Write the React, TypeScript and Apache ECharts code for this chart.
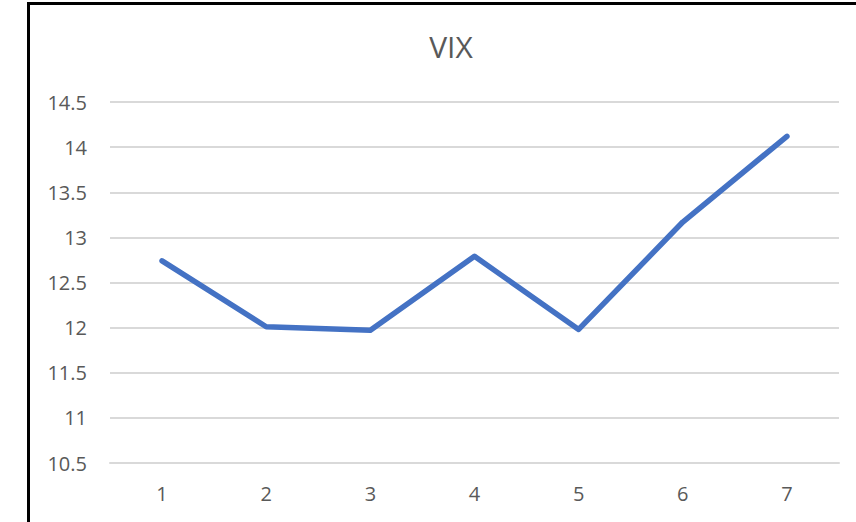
import React, { useEffect, useRef } from "react";
import * as echarts from "echarts";

const categories = ["1", "2", "3", "4", "5", "6", "7"];
const vixValues = [12.74, 12.01, 11.97, 12.79, 11.98, 13.17, 14.12];
const yTicks = { min: 10.5, max: 14.5, interval: 0.5 };

export default function App() {
  const ref = useRef<HTMLDivElement>(null);
  useEffect(() => {
    if (!ref.current) return;
    const chart = echarts.init(ref.current, null, { renderer: "svg" });
    chart.setOption({
      animation: false,
      backgroundColor: "#ffffff",
      title: {
        text: "VIX",
        left: 446,
        top: 26,
        textAlign: "center",
        textStyle: { fontFamily: "Open Sans", fontSize: 30, fontWeight: "normal", color: "#595959" },
      },
      graphic: [
        {
          type: "rect",
          shape: { x: 28.5, y: 3.5, width: 900, height: 600 },
          style: { fill: "none", stroke: "#000000", lineWidth: 3 },
          silent: true,
        },
      ],
      grid: { left: 110, right: 17, top: 102, bottom: 59 },
      xAxis: {
        type: "category",
        data: categories,
        boundaryGap: true,
        axisLine: { show: true, lineStyle: { color: "#d9d9d9", width: 2 } },
        axisTick: { show: false },
        axisLabel: { margin: 20, fontFamily: "Open Sans", fontSize: 20, color: "#595959" },
      },
      yAxis: {
        type: "value",
        min: yTicks.min,
        max: yTicks.max,
        interval: yTicks.interval,
        axisLine: { show: false },
        axisTick: { show: false },
        splitLine: { lineStyle: { color: "#d9d9d9", width: 2 } },
        axisLabel: { margin: 23, fontFamily: "Open Sans", fontSize: 20, color: "#595959" },
      },
      series: [
        {
          type: "line",
          data: vixValues,
          showSymbol: false,
          lineStyle: { color: "#4472C4", width: 5.5, cap: "round", join: "round" },
          itemStyle: { color: "#4472C4" },
        },
      ],
    });
    return () => chart.dispose();
  }, []);
  return (
    <div style={{ position: "fixed", left: 0, top: 0, width: 856, height: 522, overflow: "hidden" }}>
      <div ref={ref} style={{ width: 856, height: 522 }} />
    </div>
  );
}
